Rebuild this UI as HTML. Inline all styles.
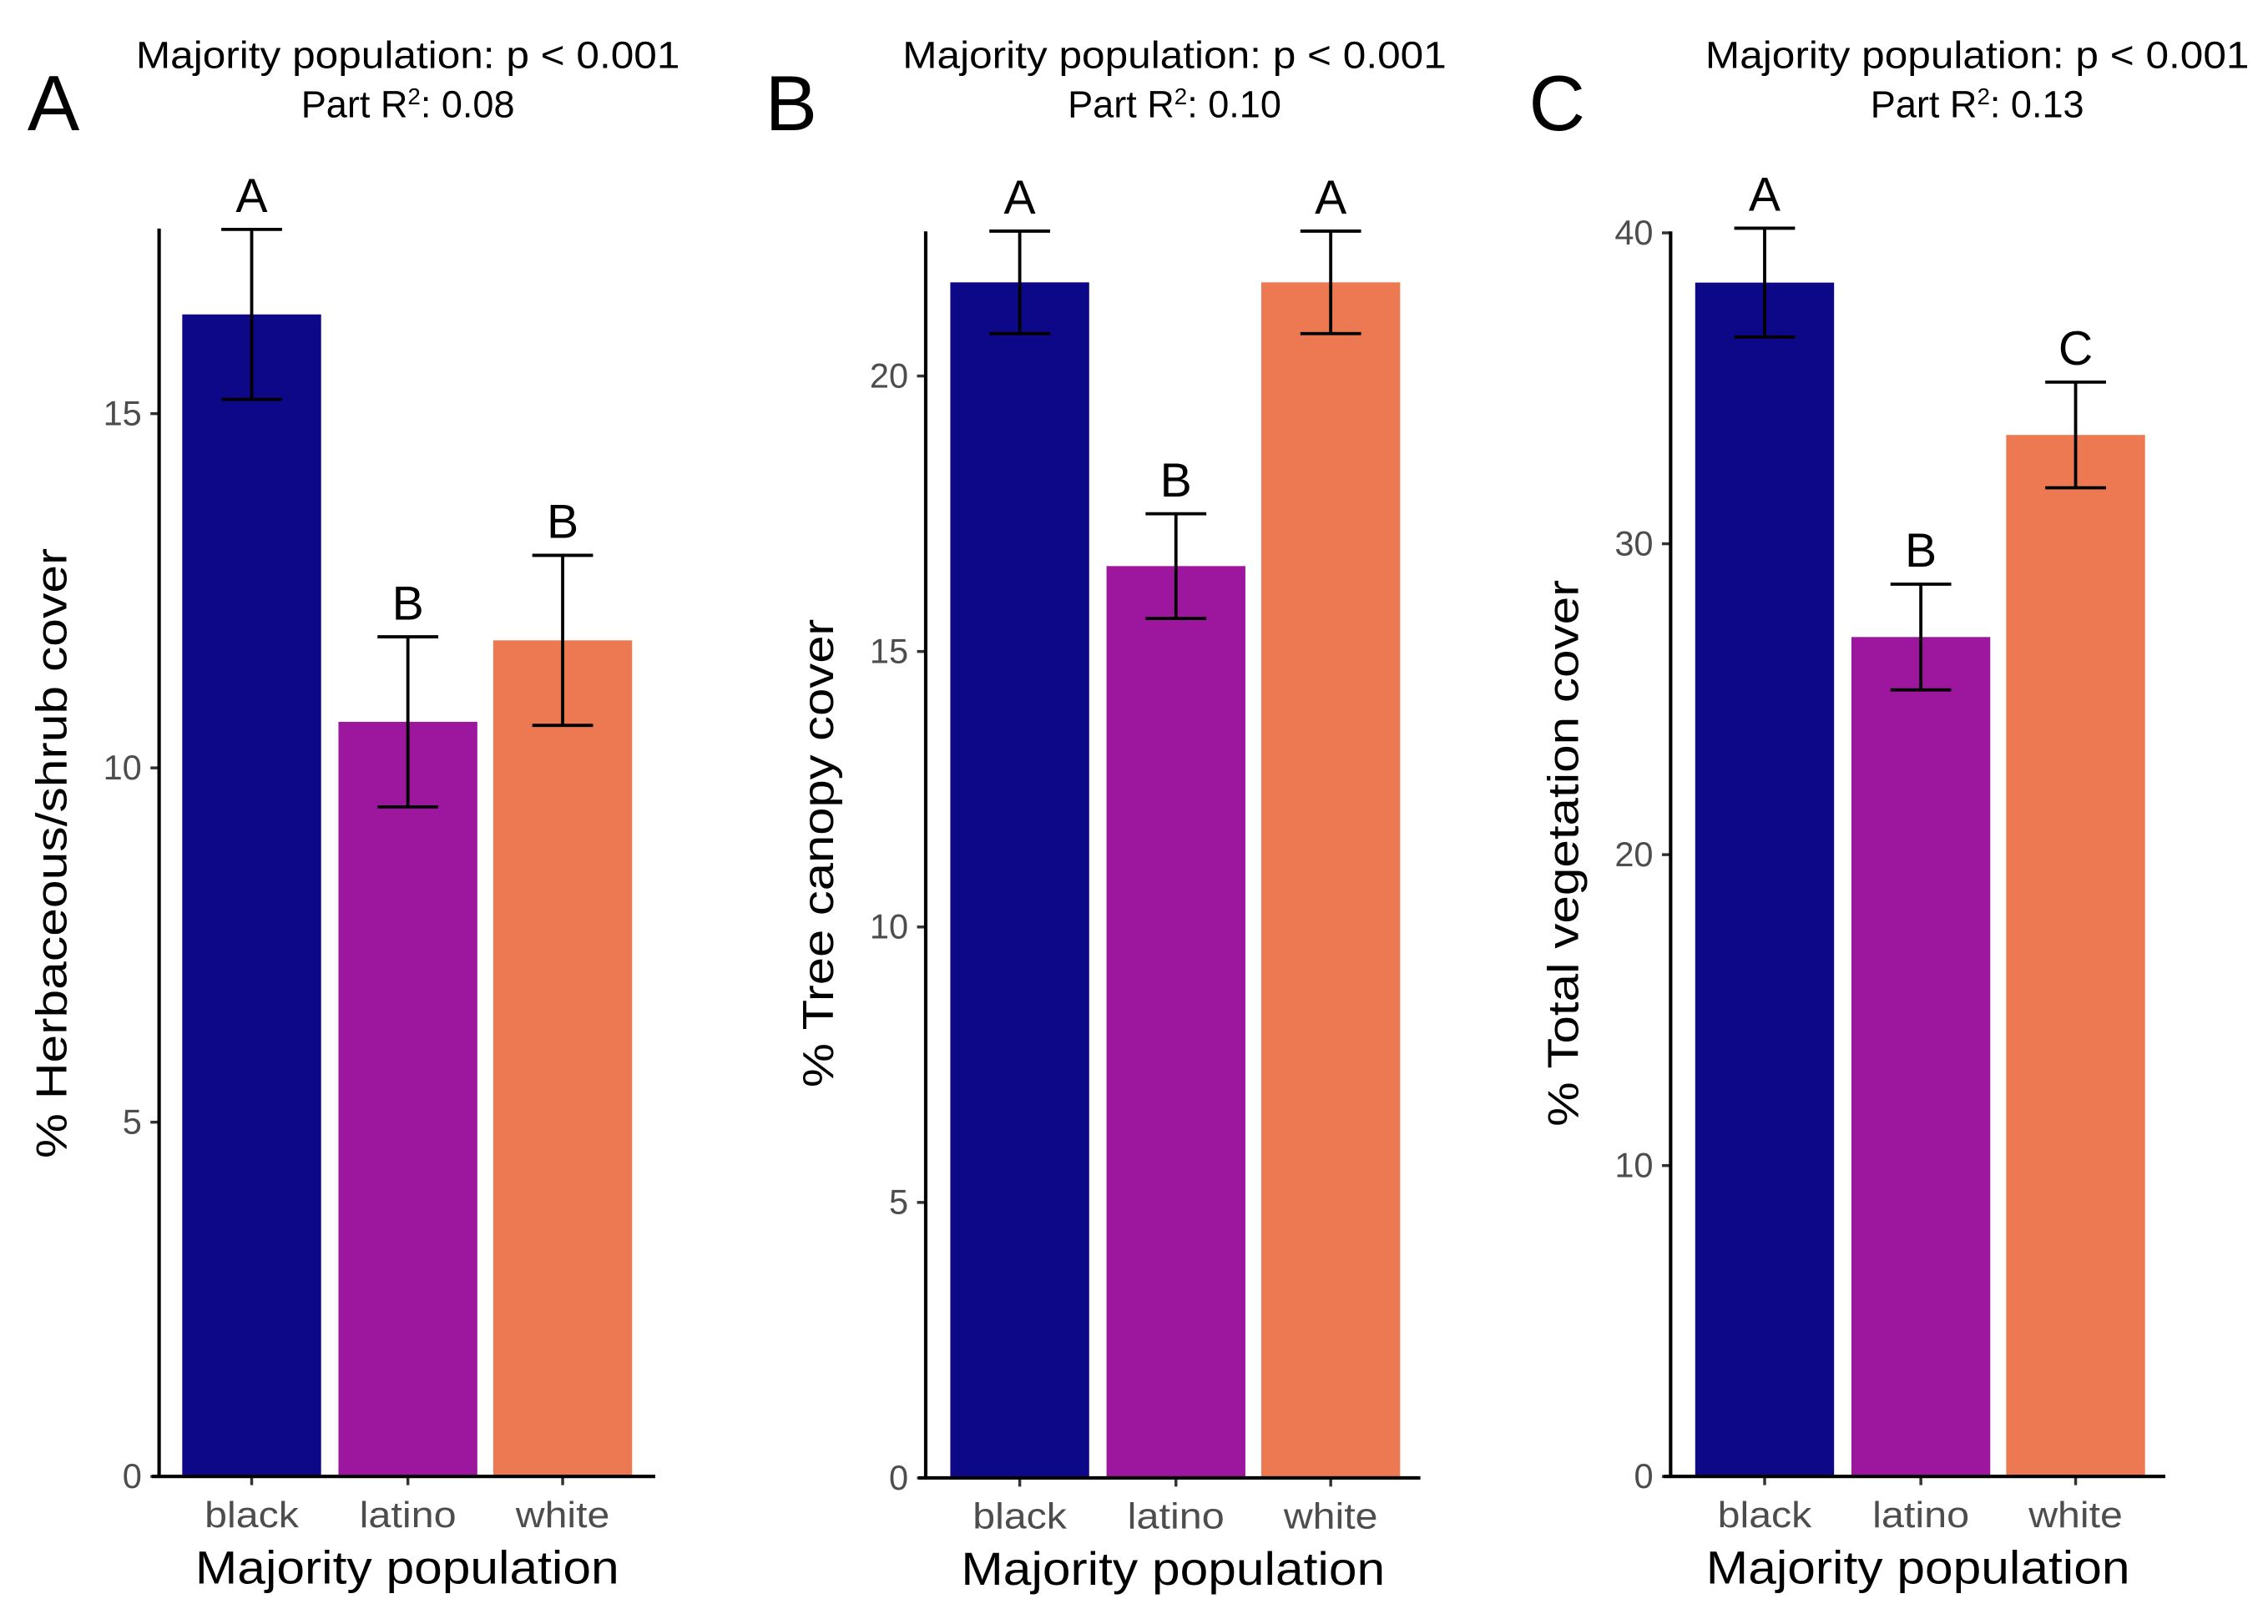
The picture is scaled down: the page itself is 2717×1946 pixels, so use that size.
<!DOCTYPE html>
<html><head><meta charset="utf-8"><style>
html,body{margin:0;padding:0;background:#fff}
svg{display:block;font-family:"Liberation Sans",sans-serif}
</style></head><body>
<svg id="fig" width="2717" height="1946" viewBox="0 0 1568 1123" xmlns="http://www.w3.org/2000/svg"></svg>
<script>
const categories = ["black","latino","white"];
const colors = ["#0d0887","#9c179e","#ed7953"];
const herbMeans = [16.4, 10.65, 11.8];
const herbErr = [1.2, 1.2, 1.2];
const herbLetters = ["A","B","B"];
const herbTicks = [0,5,10,15];
const treeMeans = [21.7, 16.55, 21.7];
const treeErr = [0.93, 0.95, 0.93];
const treeLetters = ["A","B","A"];
const treeTicks = [0,5,10,15,20];
const totalMeans = [38.4, 27.0, 33.5];
const totalErr = [1.75, 1.7, 1.7];
const totalLetters = ["A","B","C"];
const totalTicks = [0,10,20,30,40];

const NS="http://www.w3.org/2000/svg";
const svg=document.getElementById('fig');
function el(tag,attrs,parent,text){const e=document.createElementNS(NS,tag);for(const k in attrs)e.setAttribute(k,attrs[k]);if(text!==undefined)e.textContent=text;(parent||svg).appendChild(e);return e;}

const catLens={black:65,latino:67,white:65};
const panels=[
 {id:'a',label:'A',r2:'0.08',means:herbMeans,err:herbErr,letters:herbLetters,ticks:herbTicks,ax:110,y0:1021,perUnit:49,top:158,bars:[126,234,341],bw:96,ytitle:'% Herbaceous/shrub cover',ylen:422,ytx:37,titleX:282,labelX:19,xEnd:453},
 {id:'b',label:'B',r2:'0.10',means:treeMeans,err:treeErr,letters:treeLetters,ticks:treeTicks,ax:640,y0:1022,perUnit:38.1,top:160,bars:[657,765,872],bw:96,ytitle:'% Tree canopy cover',ylen:324,ytx:567,titleX:812,labelX:529,xEnd:982},
 {id:'c',label:'C',r2:'0.13',means:totalMeans,err:totalErr,letters:totalLetters,ticks:totalTicks,ax:1155,y0:1021,perUnit:21.5,top:160,bars:[1172,1280,1387],bw:96,ytitle:'% Total vegetation cover',ylen:378,ytx:1082,titleX:1367,labelX:1057,xEnd:1497}
];

panels.forEach(p=>{
  const g=el('g',{},svg);
  
  
  const y=v=>p.y0-v*p.perUnit;
  const pl=el('text',{x:p.labelX,y:90,'font-size':54,fill:'#000'},g,p.label);
  
  
  const t1=el('text',{x:p.titleX,y:47,'font-size':26,'text-anchor':'middle',fill:'#000',textLength:376,lengthAdjust:'spacingAndGlyphs'},g,'Majority population: p < 0.001');
  
  
  const t2=el('text',{x:p.titleX,y:81,'font-size':26,'text-anchor':'middle',fill:'#000'},g);
  
  
  t2.innerHTML='Part R<tspan dy="-9" font-size="16">2</tspan><tspan dy="9">: '+p.r2+'</tspan>';
  p.means.forEach((m,i)=>{
    const b=el('rect',{x:p.bars[i],y:y(m),width:p.bw,height:y(0)-y(m),fill:colors[i]},g);
    
    
    const cx=p.bars[i]+p.bw/2;
    const hi=y(m+p.err[i]), lo=y(m-p.err[i]);
    const eb=el('path',{d:`M${cx-21},${hi}H${cx+21}M${cx},${hi}V${lo}M${cx-21},${lo}H${cx+21}`,stroke:'#000','stroke-width':2.2,fill:'none'},g);
    
    
    const lt=el('text',{x:cx,y:hi-12,'font-size':33,'text-anchor':'middle',fill:'#000'},g,p.letters[i]);
    
    
    const cl=el('text',{x:cx,y:p.y0+35,'font-size':25,'text-anchor':'middle',fill:'#4d4d4d',textLength:catLens[categories[i]],lengthAdjust:'spacingAndGlyphs'},g,categories[i]);
    
    
    el('line',{x1:cx,x2:cx,y1:p.y0,y2:p.y0+6,stroke:'#333','stroke-width':2},g);
  });
  p.ticks.forEach(t=>{
    el('line',{x1:p.ax-6,x2:p.ax,y1:y(t),y2:y(t),stroke:'#333','stroke-width':2},g);
    const tl=el('text',{x:p.ax-12,y:y(t)+8,'font-size':24,'text-anchor':'end',fill:'#4d4d4d'},g,String(t));
    
    
  });
  const ya=el('line',{x1:p.ax,x2:p.ax,y1:p.top,y2:p.y0+1,stroke:'#000','stroke-width':2.4},g);
  
  
  const xa=el('line',{x1:p.ax-5,x2:p.xEnd,y1:p.y0,y2:p.y0,stroke:'#000','stroke-width':2.4},g);
  
  
  const xt=el('text',{x:(p.ax+p.xEnd)/2,y:p.y0+74,'font-size':32,'text-anchor':'middle',fill:'#000',textLength:293,lengthAdjust:'spacingAndGlyphs'},g,'Majority population');
  
  
  const yt=el('text',{x:0,y:0,'font-size':30,'text-anchor':'middle',fill:'#000',textLength:p.ylen,lengthAdjust:'spacingAndGlyphs',transform:`translate(${p.ytx+9},590) rotate(-90)`},g,p.ytitle);
  
  
});
</script>
</body></html>
